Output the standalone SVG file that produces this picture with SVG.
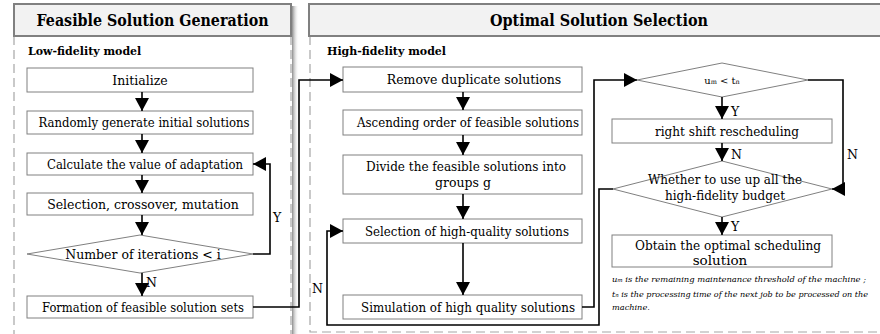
<svg xmlns="http://www.w3.org/2000/svg" width="880" height="334" viewBox="0 0 880 334">
<defs>
<style>
.title{font-family:"DejaVu Serif","Liberation Serif",serif;font-weight:bold;font-size:16px;fill:#000}
.sub{font-family:"DejaVu Serif","Liberation Serif",serif;font-weight:bold;font-size:11px;fill:#000}
.t{font-family:"DejaVu Serif","Liberation Serif",serif;font-size:12.5px;fill:#000;text-anchor:middle}
.lbl{font-family:"DejaVu Serif","Liberation Serif",serif;font-size:12.5px;fill:#000}
.note{font-family:"DejaVu Serif","Liberation Serif",serif;font-style:italic;font-size:8.2px;fill:#000}
.box{fill:#fff;stroke:#808080;stroke-width:1}
.tbox{fill:#f2f2f2;stroke:#808080;stroke-width:2}
.dash{fill:none;stroke:#a6a6a6;stroke-width:1.2;stroke-dasharray:9,5}
.c{fill:none;stroke:#000;stroke-width:1.6}
</style>
<marker id="ah" markerUnits="userSpaceOnUse" markerWidth="14" markerHeight="14" viewBox="0 0 14 14" refX="13" refY="7" orient="auto">
<path d="M0,0 L13,7 L0,14 Z" fill="#000"/>
</marker>
<linearGradient id="sh" x1="0" y1="0" x2="1" y2="0">
<stop offset="0" stop-color="#8c8c8c"/>
<stop offset="1" stop-color="#ffffff" stop-opacity="0"/>
</linearGradient>
</defs>
<rect width="880" height="334" fill="#fff"/>

<g id="panel-left">
<rect x="292" y="6" width="7" height="328" fill="url(#sh)"/>
<path class="dash" d="M14,36 V334 M291,36 V334"/>
<rect class="tbox" x="14" y="4" width="277" height="32"/>
<text class="title" x="152.5" y="26" text-anchor="middle" textLength="232" lengthAdjust="spacingAndGlyphs">Feasible Solution Generation</text>
<text class="sub" x="28" y="55">Low-fidelity model</text>
</g>

<g id="panel-right">
<path class="dash" d="M310,36 V332 H880"/>
<rect class="tbox" x="309" y="4" width="580" height="32"/>
<text class="title" x="599" y="26" text-anchor="middle" textLength="218" lengthAdjust="spacingAndGlyphs">Optimal Solution Selection</text>
<text class="sub" x="327" y="55">High-fidelity model</text>
</g>

<g id="initialize"><rect class="box" x="27" y="68" width="226" height="24"/><text class="t" x="140" y="84.5">Initialize</text></g>
<g id="random-init"><rect class="box" x="27" y="111" width="226" height="23"/><text class="t" x="144" y="127" textLength="211" lengthAdjust="spacingAndGlyphs">Randomly generate initial solutions</text></g>
<g id="calc-adapt"><rect class="box" x="27" y="153" width="226" height="22"/><text class="t" x="145" y="168.5" textLength="196" lengthAdjust="spacingAndGlyphs">Calculate the value of adaptation</text></g>
<g id="select-cross"><rect class="box" x="27" y="193" width="226" height="22"/><text class="t" x="143" y="208.5">Selection, crossover, mutation</text></g>
<g id="iter-check"><polygon class="box" points="27,254 140,235 253,254 140,273"/><text class="t" x="143" y="258.5">Number of iterations &lt; i</text></g>
<g id="formation"><rect class="box" x="27" y="296" width="226" height="22"/><text class="t" x="143" y="311.5" textLength="202" lengthAdjust="spacingAndGlyphs">Formation of feasible solution sets</text></g>

<g id="remove-dup"><rect class="box" x="343" y="67" width="239" height="25"/><text class="t" x="474" y="84">Remove duplicate solutions</text></g>
<g id="ascending"><rect class="box" x="343" y="110" width="239" height="25"/><text class="t" x="468" y="127" textLength="222" lengthAdjust="spacingAndGlyphs">Ascending order of feasible solutions</text></g>
<g id="divide"><rect class="box" x="343" y="155" width="239" height="39"/><text class="t" x="466" y="171" textLength="200" lengthAdjust="spacingAndGlyphs">Divide the feasible solutions into</text><text class="t" x="463" y="187">groups g</text></g>
<g id="select-hq"><rect class="box" x="343" y="219" width="239" height="24"/><text class="t" x="467" y="236" textLength="204" lengthAdjust="spacingAndGlyphs">Selection of high-quality solutions</text></g>
<g id="simulate"><rect class="box" x="343" y="295" width="239" height="24"/><text class="t" x="468" y="312" textLength="214" lengthAdjust="spacingAndGlyphs">Simulation of high quality solutions</text></g>

<g id="um-tn"><polygon class="box" points="637,80 722,63 808,80 722,97"/><text class="t" x="722" y="84" style="font-size:10px">u<tspan style="font-size:6.5px">m</tspan> &lt; t<tspan style="font-size:6.5px">n</tspan></text></g>
<g id="right-shift"><rect class="box" x="612" y="119" width="220" height="24"/><text class="t" x="727" y="136" textLength="144" lengthAdjust="spacingAndGlyphs">right shift rescheduling</text></g>
<g id="budget"><polygon class="box" points="613,189 722,161 832,189 722,217"/><text class="t" x="725" y="184" textLength="154" lengthAdjust="spacingAndGlyphs">Whether to use up all the</text><text class="t" x="725" y="200" textLength="120" lengthAdjust="spacingAndGlyphs">high-fidelity budget</text></g>
<g id="obtain"><rect class="box" x="612" y="235" width="220" height="32"/><text class="t" x="728" y="249.5" style="font-size:13.5px" textLength="186" lengthAdjust="spacingAndGlyphs">Obtain the optimal scheduling</text><text class="t" x="720" y="264.5" style="font-size:13.5px">solution</text></g>

<g id="note">
<text class="note" x="612" y="282" textLength="254" lengthAdjust="spacingAndGlyphs">u<tspan style="font-size:5.5px">m</tspan> is the remaining maintenance threshold of the machine ;</text>
<text class="note" x="612" y="297" textLength="256" lengthAdjust="spacingAndGlyphs">t<tspan style="font-size:5.5px">n</tspan> is the processing time of the next job to be processed on the</text>
<text class="note" x="612" y="310">machine.</text>
</g>

<g id="connectors">
<path class="c" marker-end="url(#ah)" d="M142,92 V111"/>
<path class="c" marker-end="url(#ah)" d="M142,134 V153"/>
<path class="c" marker-end="url(#ah)" d="M142,175 V193"/>
<path class="c" marker-end="url(#ah)" d="M142,215 V235"/>
<path class="c" marker-end="url(#ah)" d="M142,273 V296"/>
<path class="c" marker-end="url(#ah)" d="M253,254 H270 V164 H253"/>
<path class="c" marker-end="url(#ah)" d="M253,307 H299 V80 H343"/>
<path class="c" marker-end="url(#ah)" d="M463,92 V110"/>
<path class="c" marker-end="url(#ah)" d="M463,135 V155"/>
<path class="c" marker-end="url(#ah)" d="M463,194 V219"/>
<path class="c" marker-end="url(#ah)" d="M463,243 V295"/>
<path class="c" marker-end="url(#ah)" d="M582,307 H594 V80 H637"/>
<path class="c" marker-end="url(#ah)" d="M722,97 V119"/>
<path class="c" marker-end="url(#ah)" d="M722,143 V161"/>
<path class="c" marker-end="url(#ah)" d="M722,217 V235"/>
<path class="c" marker-end="url(#ah)" d="M808,80 H843 V189 H832"/>
<path class="c" marker-end="url(#ah)" d="M613,189 H599 V325 H327 V231 H343"/>
<text class="lbl" x="146" y="287">N</text>
<text class="lbl" x="273" y="222">Y</text>
<text class="lbl" x="312" y="293">N</text>
<text class="lbl" x="731" y="116">Y</text>
<text class="lbl" x="731" y="159">N</text>
<text class="lbl" x="847" y="159">N</text>
<text class="lbl" x="731" y="231">Y</text>
</g>
</svg>
